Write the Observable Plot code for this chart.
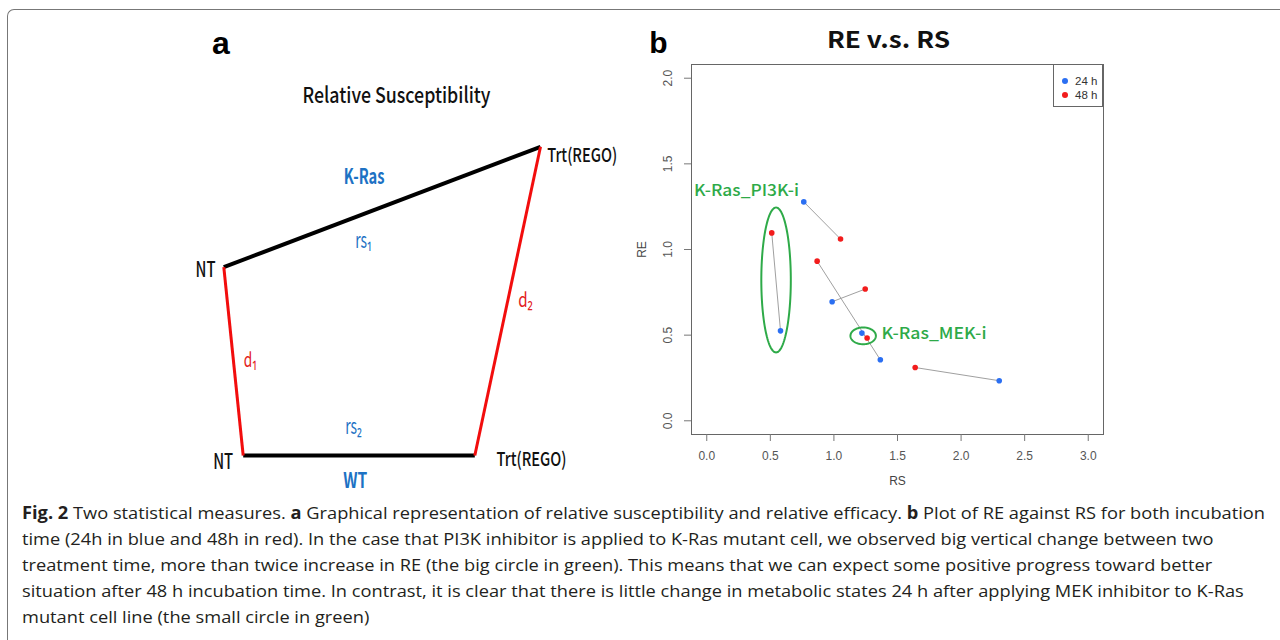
<!DOCTYPE html>
<html><head><meta charset="utf-8">
<script src="https://cdn.jsdelivr.net/npm/d3@7"></script>
<script src="https://cdn.jsdelivr.net/npm/@observablehq/plot@0.6"></script>
<style>
html,body{margin:0;padding:0;background:#fff;}
body{width:1280px;height:640px;position:relative;overflow:hidden;font-family:"Liberation Sans",Arial,sans-serif;}
#frame{position:absolute;left:7px;top:9px;width:1400px;height:800px;border-left:1.5px solid #777;border-top:1.5px solid #777;border-top-left-radius:7px;box-sizing:border-box;}
#pa{position:absolute;left:180px;top:20px;}
#pb{position:absolute;left:640px;top:20px;}
#legend{position:absolute;left:1053px;top:64px;width:50px;height:43px;border:1px solid #666;box-sizing:border-box;background:#fff;font-size:11.5px;color:#333;}
#legend .it{position:absolute;left:0;height:14px;line-height:14px;}
#legend .sw{position:absolute;left:8px;top:4px;width:6px;height:6px;border-radius:50%;}
#legend .tx{position:absolute;left:21px;top:0;white-space:nowrap;}
#caption{position:absolute;left:22px;top:500px;font-family:"Open Sans","Noto Sans",sans-serif;font-size:17px;line-height:26px;color:#231f20;white-space:nowrap;}
#caption .ln{display:block;width:max-content;transform-origin:0 50%;}
</style></head>
<body>
<div id="frame"></div>
<div id="pa"></div>
<div id="pb"></div>
<div id="legend"></div>
<div id="caption">
<div class="ln"><b>Fig. 2</b> Two statistical measures. <b>a</b> Graphical representation of relative susceptibility and relative efficacy. <b>b</b> Plot of RE against RS for both incubation</div>
<div class="ln">time (24h in blue and 48h in red). In the case that PI3K inhibitor is applied to K-Ras mutant cell, we observed big vertical change between two</div>
<div class="ln">treatment time, more than twice increase in RE (the big circle in green). This means that we can expect some positive progress toward better</div>
<div class="ln">situation after 48 h incubation time. In contrast, it is clear that there is little change in metabolic states 24 h after applying MEK inhibitor to K-Ras</div>
<div class="ln">mutant cell line (the small circle in green)</div>
</div>
<script>
// ---------- Panel a: schematic (diagram units) ----------
const nodeName = ["NT", "Trt(REGO)", "NT", "Trt(REGO)"];
const nodeX = [43.3, 360, 62.7, 294.3];
const nodeY = [246.7, 126.3, 435, 435];
const nodeLabelX = [35, 366.7, 52.7, 316];
const nodeLabelY = [249.6, 135.6, 441.9, 439.9];
const groupName = ["K-Ras", "WT"];
const groupLabelX = [183.7, 174.7];
const groupLabelY = [156.9, 460.3];
const edgeName = ["rs\u2081", "rs\u2082", "d\u2081", "d\u2082"];
const edgeKind = ["rs", "rs", "d", "d"];
const edgeFrom = [0, 2, 0, 1];
const edgeTo = [1, 3, 2, 3];
const edgeLabelX = [183, 173, 70, 345];
const edgeLabelY = [220.3, 406.9, 340.3, 280.3];
const panelATitle = ["Relative Susceptibility"];

// ---------- Panel b: RE vs RS ----------
const timeLabels = ["24 h", "48 h"];
const timeColors = ["#2b6ff2", "#f21c1c"];
const rs24 = [0.763, 0.580, 1.365, 0.986, 1.220, 2.300];
const re24 = [1.278, 0.525, 0.356, 0.695, 0.512, 0.234];
const rs48 = [1.052, 0.511, 0.868, 1.246, 1.261, 1.639];
const re48 = [1.061, 1.097, 0.932, 0.769, 0.483, 0.311];
const xTicks = [0, 0.5, 1, 1.5, 2, 2.5, 3];
const yTicks = [0, 0.5, 1, 1.5, 2];
const circleLabels = ["K-Ras_PI3K-i", "K-Ras_MEK-i"];
const circleCx = [0.545, 1.230];
const circleCy = [0.822, 0.496];
const circleRx = [0.116, 0.100];
const circleRy = [0.423, 0.049];
const circleLabelX = [-0.100, 1.374];
const circleLabelY = [1.343, 0.508];

const fitWidths = {
  "Relative Susceptibility": 188, "NT": 20, "Trt(REGO)": 70, "K-Ras": 40.7, "WT": 24,
  "rs\u2081": 16.7, "rs\u2082": 16.7, "d\u2081": 13.3, "d\u2082": 14.7,
  "RE v.s. RS": 123, "K-Ras_PI3K-i": 105, "K-Ras_MEK-i": 105
};
function fit(svg) {
  svg.querySelectorAll("text").forEach(t => {
    const w = fitWidths[t.textContent];
    if (w && !t.closest("[aria-label$='axis tick label']")) {
      t.setAttribute("textLength", w);
      t.setAttribute("lengthAdjust", "spacingAndGlyphs");
    }
  });
  return svg;
}

const KR = '"Noto Sans CJK KR", "Noto Sans", sans-serif';
const edges = edgeName.map((n, i) => ({
  name: n, kind: edgeKind[i],
  x1: nodeX[edgeFrom[i]], y1: nodeY[edgeFrom[i]],
  x2: nodeX[edgeTo[i]], y2: nodeY[edgeTo[i]],
  lx: edgeLabelX[i], ly: edgeLabelY[i]
}));
const nodes = nodeName.map((n, i) => ({name: n, lx: nodeLabelX[i], ly: nodeLabelY[i], side: i % 2}));
const groups = groupName.map((n, i) => ({name: n, x: groupLabelX[i], y: groupLabelY[i]}));

const pa = Plot.plot({
  width: 460, height: 480, margin: 0,
  x: {domain: [0, 460], range: [0, 460], axis: null},
  y: {domain: [0, 480], range: [0, 480], axis: null},
  style: {background: "transparent", overflow: "visible"},
  marks: [
    Plot.link(edges.filter(e => e.kind === "rs"), {x1: "x1", y1: "y1", x2: "x2", y2: "y2", stroke: "#000", strokeWidth: 4}),
    Plot.link(edges.filter(e => e.kind === "d"), {x1: "x1", y1: "y1", x2: "x2", y2: "y2", stroke: "#f20d0d", strokeWidth: 3}),
    Plot.text(["a"], {x: () => 40.5, y: () => 23.1, text: d => d, fontSize: 32, fontWeight: "bold", fontFamily: '"Liberation Sans", Arial, sans-serif', fill: "#000"}),
    Plot.text(panelATitle, {x: () => 216, y: () => 75.3, text: d => d, fontSize: 22, fontWeight: 500, fontFamily: KR, fill: "#111"}),
    Plot.text(nodes.filter(d => d.side === 0), {x: "lx", y: "ly", text: "name", textAnchor: "end", fontSize: 21, fontWeight: 500, fontFamily: KR, fill: "#111"}),
    Plot.text(nodes.filter(d => d.side === 1), {x: "lx", y: "ly", text: "name", textAnchor: "start", fontSize: 19, fontWeight: 500, fontFamily: KR, fill: "#111"}),
    Plot.text(groups, {x: "x", y: "y", text: "name", fontSize: 21, fontWeight: "bold", fontFamily: KR, fill: "#1d72c4"}),
    Plot.text(edges.filter(e => e.kind === "rs"), {x: "lx", y: "ly", text: "name", fontSize: 22, fontFamily: KR, fill: "#1d72c4"}),
    Plot.text(edges.filter(e => e.kind === "d"), {x: "lx", y: "ly", text: "name", fontSize: 20, fontFamily: KR, fill: "#e32222"})
  ]
});
document.getElementById("pa").appendChild(fit(pa));

const points = [
  ...rs24.map((x, i) => ({x, y: re24[i], time: timeLabels[0]})),
  ...rs48.map((x, i) => ({x, y: re48[i], time: timeLabels[1]}))
];
const pairs = rs24.map((x, i) => ({x1: x, y1: re24[i], x2: rs48[i], y2: re48[i]}));
const ellipsePts = circleCx.flatMap((cx, i) => d3.range(0, 121).map(k => {
  const t = k / 120 * 2 * Math.PI;
  return {id: i, x: cx + circleRx[i] * Math.cos(t), y: circleCy[i] + circleRy[i] * Math.sin(t)};
}));
const circleText = circleLabels.map((t, i) => ({t, x: circleLabelX[i], y: circleLabelY[i]}));

const mid = {textAnchor: "middle", lineAnchor: "middle"};
const pb = Plot.plot({
  width: 480, height: 480, marginLeft: 51, marginRight: 17, marginTop: 44, marginBottom: 66,
  x: {domain: [-0.12, 3.12]},
  y: {domain: [-0.08, 2.08]},
  color: {domain: timeLabels, range: timeColors},
  style: {fontFamily: '"Liberation Sans", Arial, sans-serif', fontSize: "12px", background: "transparent", overflow: "visible"},
  marks: [
    Plot.frame({stroke: "#666"}),
    Plot.axisX({ticks: xTicks, tickFormat: d3.format(".1f"), tickSize: 7, tickPadding: 10, stroke: "#777", fill: "#555", label: null}),
    Plot.axisY({ticks: yTicks, tickFormat: d3.format(".1f"), tickSize: 7, tickPadding: 13, tickRotate: -90, stroke: "#777", fill: "#555", label: null}),
    Plot.text(["RS"], {...mid, frameAnchor: "bottom", dy: 47, text: d => d, fill: "#444"}),
    Plot.text(["RE"], {...mid, frameAnchor: "left", dx: -49, rotate: -90, text: d => d, fill: "#444"}),
    Plot.text(["RE v.s. RS"], {...mid, frameAnchor: "top", dx: -9, dy: -24, text: d => d, fontSize: 23, fontWeight: "bold", fontFamily: KR, fill: "#111"}),
    Plot.text(["b"], {...mid, frameAnchor: "top-left", dx: -33, dy: -21, text: d => d, fontSize: 30, fontWeight: "bold", fill: "#000"}),
    Plot.link(pairs, {x1: "x1", y1: "y1", x2: "x2", y2: "y2", stroke: "#a0a0a0", strokeWidth: 1}),
    Plot.line(ellipsePts, {x: "x", y: "y", z: "id", stroke: "#2eaa48", strokeWidth: 2}),
    Plot.dot(points, {x: "x", y: "y", fill: "time", r: 2.8}),
    Plot.text(circleText, {x: "x", y: "y", text: "t", textAnchor: "start", fill: "#2eaa48", fontSize: 16.5, fontWeight: 500, fontFamily: KR})
  ]
});
document.getElementById("pb").appendChild(fit(pb));

// legend
const lg = document.getElementById("legend");
timeLabels.forEach((t, i) => {
  const it = document.createElement("div");
  it.className = "it";
  it.style.top = (9 + i * 14) + "px";
  it.innerHTML = `<span class="sw" style="background:${timeColors[i]}"></span><span class="tx">${t}</span>`;
  lg.appendChild(it);
});

// caption fit
const lines = document.querySelectorAll("#caption .ln");
const w0 = lines[0].getBoundingClientRect().width;
const s = 1243 / w0;
lines.forEach(l => l.style.transform = `scaleX(${s})`);
</script>
</body></html>
